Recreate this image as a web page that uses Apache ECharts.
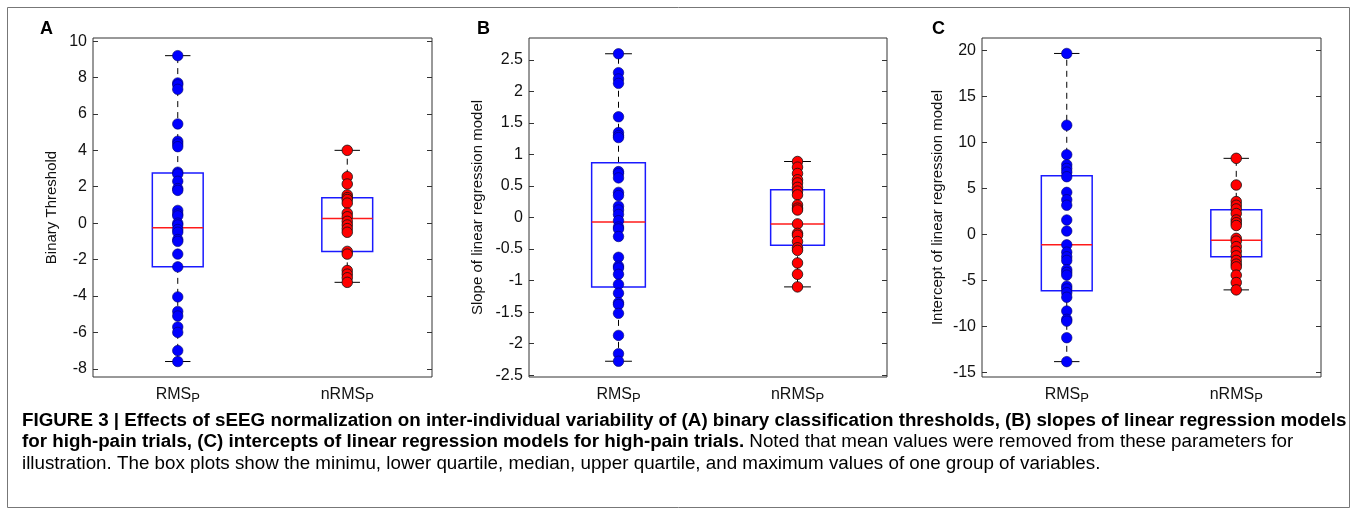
<!DOCTYPE html>
<html><head><meta charset="utf-8">
<script src="https://cdn.jsdelivr.net/npm/echarts@6/dist/echarts.min.js"></script>
<style>html,body{margin:0;padding:0;background:#fff}#c{width:1358px;height:515px}</style>
</head><body><div id="c"></div>
<script>
const groups = ['RMSp', 'nRMSp']

// box stats: [min, q1, median, q3, max]
const boxA = [[-7.6, -2.4, -0.25, 2.75, 9.2], [-3.25, -1.55, 0.25, 1.4, 4.0]]
const boxB = [[-2.28, -1.1, -0.07, 0.87, 2.6], [-1.1, -0.44, -0.1, 0.44, 0.89]]
const boxC = [[-13.8, -6.1, -1.1, 6.4, 19.7], [-6.0, -2.4, -0.6, 2.7, 8.3]]

const ptsA_rms = [9.2, 7.7, 7.6, 7.35, 5.45, 4.5, 4.35, 4.2, 2.8, 2.7, 2.3, 1.9, 1.8, 0.7, 0.5, 0.4, 0.0, -0.1, -0.35, -0.5, -0.9, -1.0, -1.7, -2.4, -4.05, -4.85, -5.1, -5.7, -6.0, -7.0, -7.6]
const ptsA_nrms = [4.0, 2.55, 2.15, 1.55, 1.4, 1.3, 1.1, 0.55, 0.35, 0.1, -0.1, -0.3, -0.5, -1.55, -1.7, -2.6, -2.8, -3.0, -3.25]
const ptsB_rms = [2.6, 2.3, 2.2, 2.13, 1.6, 1.35, 1.3, 1.27, 0.73, 0.7, 0.63, 0.4, 0.35, 0.18, 0.12, 0.05, -0.05, -0.15, -0.18, -0.3, -0.63, -0.77, -0.8, -0.9, -1.06, -1.2, -1.35, -1.38, -1.52, -1.87, -2.16, -2.28]
const ptsB_nrms = [0.89, 0.8, 0.7, 0.6, 0.55, 0.48, 0.42, 0.36, 0.2, 0.15, 0.12, -0.1, -0.25, -0.28, -0.38, -0.48, -0.52, -0.72, -0.9, -1.1]
const ptsC_rms = [19.7, 11.9, 8.7, 7.6, 7.2, 6.8, 6.3, 4.6, 3.8, 3.2, 1.6, 0.4, -1.1, -1.9, -2.4, -2.8, -3.8, -4.1, -4.4, -5.6, -5.9, -6.3, -6.8, -8.3, -9.2, -9.4, -11.2, -13.8]
const ptsC_nrms = [8.3, 5.4, 3.6, 3.2, 2.8, 2.3, 1.6, 1.3, 1.0, -0.4, -0.7, -1.3, -1.8, -2.3, -2.8, -3.2, -3.5, -4.4, -5.2, -6.0]

const ticksA = [-8, -6, -4, -2, 0, 2, 4, 6, 8, 10]
const ticksB = [-2.5, -2, -1.5, -1, -0.5, 0, 0.5, 1, 1.5, 2, 2.5]
const ticksC = [-15, -10, -5, 0, 5, 10, 15, 20]

const panels = [
  { left: 93, width: 339, min: -8.45, max: 10.17, ticks: ticksA, box: boxA, pts: [ptsA_rms, ptsA_nrms], name: 'Binary Threshold', nameGap: 34 },
  { left: 529, width: 358, min: -2.53, max: 2.85, ticks: ticksB, box: boxB, pts: [ptsB_rms, ptsB_nrms], name: 'Slope of linear regression model', nameGap: 44 },
  { left: 982, width: 339, min: -15.47, max: 21.38, ticks: ticksC, box: boxC, pts: [ptsC_rms, ptsC_nrms], name: 'Intercept of linear regression model', nameGap: 37 }
]

const font = 'Liberation Sans, Arial, sans-serif'
const grid = [], xAxis = [], yAxis = [], series = []

panels.forEach((p, i) => {
  grid.push({ left: p.left, width: p.width, top: 38, height: 339, show: true, borderColor: '#333', borderWidth: 1, backgroundColor: 'transparent' })
  xAxis.push({
    type: 'category', gridIndex: i, data: groups,
    axisLine: { show: false }, axisTick: { show: false },
    axisLabel: {
      fontFamily: font, fontSize: 16, color: '#111', margin: 7,
      formatter: v => v.slice(0, -1) + '{s|P}',
      rich: { s: { fontFamily: font, fontSize: 13, color: '#111', padding: [8, 0, 0, 0] } }
    }
  })
  const yBase = {
    type: 'value', gridIndex: i, min: p.min, max: p.max,
    splitLine: { show: false }, axisLine: { show: false },
    axisTick: { show: true, inside: true, length: 5, lineStyle: { color: '#333' }, customValues: p.ticks }
  }
  yAxis.push(Object.assign({}, yBase, {
    position: 'left',
    name: p.name, nameLocation: 'middle', nameGap: p.nameGap, nameRotate: 90,
    nameTextStyle: { fontFamily: font, fontSize: 15, color: '#111' },
    axisLabel: { fontFamily: font, fontSize: 16, color: '#111', margin: 6, customValues: p.ticks }
  }))
  yAxis.push(Object.assign({}, yBase, { position: 'right', axisLabel: { show: false } }))

  series.push({
    type: 'custom', xAxisIndex: i, yAxisIndex: 2 * i, z: 2,
    data: p.box.map((b, k) => [k].concat(b)),
    renderItem: (params, api) => {
      const k = api.value(0)
      const bw = api.size([1, 0])[0]
      const half = bw * 0.15, cap = bw * 0.075
      const c = y => api.coord([k, y])
      const x = c(api.value(1))[0]
      const yMin = c(api.value(1))[1], yQ1 = c(api.value(2))[1], yMed = c(api.value(3))[1]
      const yQ3 = c(api.value(4))[1], yMax = c(api.value(5))[1]
      const black = { stroke: '#000', lineWidth: 1 }
      const dash = { stroke: '#000', lineWidth: 1, lineDash: [6, 5] }
      return {
        type: 'group', children: [
          { type: 'line', shape: { x1: x, y1: yQ3, x2: x, y2: yMax }, style: dash },
          { type: 'line', shape: { x1: x, y1: yQ1, x2: x, y2: yMin }, style: dash },
          { type: 'line', shape: { x1: x - cap, y1: yMax, x2: x + cap, y2: yMax }, style: black },
          { type: 'line', shape: { x1: x - cap, y1: yMin, x2: x + cap, y2: yMin }, style: black },
          { type: 'rect', shape: { x: x - half, y: yQ3, width: 2 * half, height: yQ1 - yQ3 }, style: { fill: 'none', stroke: '#1a1aff', lineWidth: 1.5 } },
          { type: 'line', shape: { x1: x - half, y1: yMed, x2: x + half, y2: yMed }, style: { stroke: '#ff1a1a', lineWidth: 1.5 } }
        ]
      }
    }
  })
  p.pts.forEach((arr, k) => {
    series.push({
      type: 'scatter', xAxisIndex: i, yAxisIndex: 2 * i, z: 3,
      symbolSize: 10.5, data: arr.map(v => [k, v]),
      itemStyle: k === 0
        ? { color: '#0000ff', borderColor: '#000066', borderWidth: 0.6, opacity: 1 }
        : { color: '#ff0000', borderColor: '#111', borderWidth: 0.8, opacity: 1 }
    })
  })
})

const rich = {
  b: { fontFamily: font, fontSize: 18.8, fontWeight: 'bold', color: '#222' },
  n: { fontFamily: font, fontSize: 18.8, color: '#444' }
}
const graphic = [
  { type: 'rect', shape: { x: 7.5, y: 7.5, width: 1342, height: 500 }, style: { fill: 'none', stroke: '#777', lineWidth: 1 } },
  { type: 'text', left: 40, top: 20, style: { text: 'A', font: 'bold 18px ' + font, fill: '#000' } },
  { type: 'text', left: 477, top: 20, style: { text: 'B', font: 'bold 18px ' + font, fill: '#000' } },
  { type: 'text', left: 932, top: 20, style: { text: 'C', font: 'bold 18px ' + font, fill: '#000' } },
  { type: 'text', left: 22, top: 411, style: { text: '{b|FIGURE 3 | Effects of sEEG normalization on inter-individual variability of (A) binary classification thresholds, (B) slopes of linear regression models}', rich } },
  { type: 'text', left: 22, top: 432, style: { text: '{b|for high-pain trials, (C) intercepts of linear regression models for high-pain trials.}{n| Noted that mean values were removed from these parameters for}', rich } },
  { type: 'text', left: 22, top: 454, style: { text: '{n|illustration. The box plots show the minimu, lower quartile, median, upper quartile, and maximum values of one group of variables.}', rich } }
]

const chart = echarts.init(document.getElementById('c'))
chart.setOption({ animation: false, grid, xAxis, yAxis, series, graphic })
</script></body></html>
